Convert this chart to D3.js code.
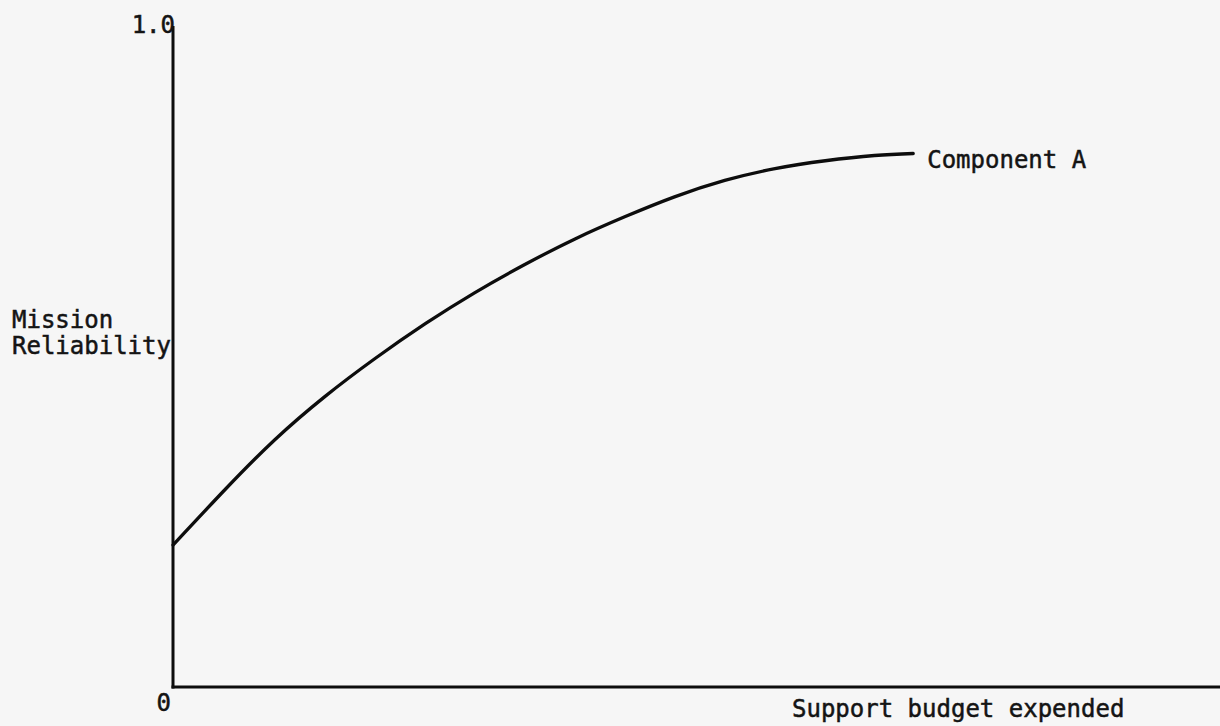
<!DOCTYPE html>
<html>
<head>
<meta charset="utf-8">
<script src="https://cdn.jsdelivr.net/npm/d3@7"></script>
<style>
  html, body { margin: 0; padding: 0; background: #f6f6f6; }
  svg { display: block; }
  text { font-family: "DejaVu Sans Mono", "Liberation Mono", monospace; fill: #141414; stroke: #141414; stroke-width: 0.5px; }
</style>
</head>
<body>
<svg id="chart" width="1220" height="726"></svg>
<script>
// ---- data ----
const budget = [0, 5.0, 9.7, 14.5, 19.3, 24.1, 28.8, 33.6, 38.4, 43.2, 47.9, 52.7, 57.5, 62.3, 67.0, 70.7];
const reliability = [0.216, 0.301, 0.376, 0.442, 0.500, 0.553, 0.600, 0.643, 0.682, 0.716, 0.746, 0.771, 0.789, 0.801, 0.809, 0.812];
const seriesName = "Component A";
const yTickLabels = ["0", "1.0"];
const yTickValues = [0, 1.0];
const yTitle = ["Mission", "Reliability"];
const xTitle = "Support budget expended";

// ---- layout ----
const svg = d3.select("#chart");
const x = d3.scaleLinear().domain([0, 100]).range([173, 1220]);
const y = d3.scaleLinear().domain([0, 1]).range([687, 30]);

const ink = "#0d0d0d";

// axes
svg.append("line")
  .attr("x1", x(0)).attr("x2", x(0))
  .attr("y1", y(1) - 4).attr("y2", y(0) + 1.5)
  .attr("stroke", ink).attr("stroke-width", 3);
svg.append("line")
  .attr("x1", x(0) - 1.5).attr("x2", x(100))
  .attr("y1", y(0)).attr("y2", y(0))
  .attr("stroke", ink).attr("stroke-width", 3);

// tick labels
svg.append("text").attr("x", x(0) - 2).attr("y", y(yTickValues[0]) + 24)
  .attr("text-anchor", "end").attr("font-size", 24).text(yTickLabels[0]);
svg.append("text").attr("x", x(0) + 2).attr("y", y(yTickValues[1]) + 3)
  .attr("text-anchor", "end").attr("font-size", 24).text(yTickLabels[1]);

// y title
svg.append("text").attr("x", 12).attr("y", 328).attr("font-size", 24).text(yTitle[0]);
svg.append("text").attr("x", 12).attr("y", 354).attr("font-size", 24).text(yTitle[1]);

// x title
svg.append("text").attr("x", 792).attr("y", 717).attr("font-size", 24).text(xTitle);

// curve
const pts = budget.map((b, i) => [b, reliability[i]]);
const line = d3.line().x(d => x(d[0])).y(d => y(d[1])).curve(d3.curveNatural);
svg.append("path").datum(pts).attr("d", line)
  .attr("fill", "none").attr("stroke", ink).attr("stroke-width", 3.3)
  .attr("stroke-linecap", "round");

// series label
const last = pts[pts.length - 1];
svg.append("text").attr("x", x(last[0]) + 14).attr("y", y(last[1]) + 14)
  .attr("font-size", 24).text(seriesName);
</script>
</body>
</html>
